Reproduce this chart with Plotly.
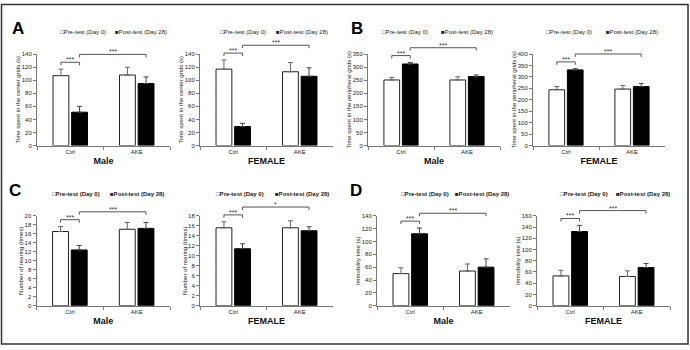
import plotly.graph_objects as go

W, H = 690, 350

categories = ["Ctrl", "AKE"]
series_names = ["Pre-test (Day 0)", "Post-test (Day 28)"]

# A: Time spent in the center grids (s)
a_male_pre = [107, 108]
a_male_pre_sem = [10, 12]
a_male_post = [51, 95]
a_male_post_sem = [9, 10]
a_female_pre = [117, 113]
a_female_pre_sem = [14, 14]
a_female_post = [29, 106]
a_female_post_sem = [5, 13]

# B: Time spent in the peripheral grids (s)
b_male_pre = [251, 251]
b_male_pre_sem = [10, 12]
b_male_post = [312, 264]
b_male_post_sem = [6, 6]
b_female_pre = [244, 247]
b_female_pre_sem = [14, 16]
b_female_post = [331, 258]
b_female_post_sem = [5, 13]

# C: Number of rearing (times)
c_male_pre = [16.5, 17.0]
c_male_pre_sem = [1.1, 1.5]
c_male_post = [12.4, 17.2]
c_male_post_sem = [1.0, 1.3]
c_female_pre = [15.6, 15.6]
c_female_pre_sem = [1.2, 1.4]
c_female_post = [11.4, 15.0]
c_female_post_sem = [1.0, 0.8]

# D: Immobility time (s)
d_male_pre = [50, 54]
d_male_pre_sem = [9, 11]
d_male_post = [112, 60]
d_male_post_sem = [9, 13]
d_female_pre = [53, 52]
d_female_pre_sem = [10, 10]
d_female_post = [132, 68]
d_female_post_sem = [11, 7]

# significance labels: (Ctrl pre vs post, Ctrl post vs AKE post)
sig_labels = [("***", "***"), ("***", "***"), ("***", "***"), ("***", "***"),
              ("***", "***"), ("***", "*"), ("***", "***"), ("***", "***")]

y_titles = ["Time spent in the center grids (s)", "Time spent in the center grids (s)",
            "Time spent in the peripheral grids (s)", "Time spent in the peripheral grids (s)",
            "Number of rearing (times)", "Number of rearing (times)",
            "Immobility time (s)", "Immobility time (s)"]
sex_labels = ["Male", "FEMALE", "Male", "FEMALE", "Male", "FEMALE", "Male", "FEMALE"]
y_max = [140, 140, 350, 400, 20, 18, 140, 160]
y_dtick = [20, 20, 50, 50, 2, 2, 20, 20]

data = [
    (a_male_pre, a_male_pre_sem, a_male_post, a_male_post_sem),
    (a_female_pre, a_female_pre_sem, a_female_post, a_female_post_sem),
    (b_male_pre, b_male_pre_sem, b_male_post, b_male_post_sem),
    (b_female_pre, b_female_pre_sem, b_female_post, b_female_post_sem),
    (c_male_pre, c_male_pre_sem, c_male_post, c_male_post_sem),
    (c_female_pre, c_female_pre_sem, c_female_post, c_female_post_sem),
    (d_male_pre, d_male_pre_sem, d_male_post, d_male_post_sem),
    (d_female_pre, d_female_pre_sem, d_female_post, d_female_post_sem),
]

# ---- layout geometry (pixels) ----
x_px = [(37, 170), (200, 333), (368, 500), (533, 665),
        (36.5, 170), (200, 333), (377, 510), (537, 670)]
rows_px = [(52, 145), (216.5, 308)]
legend_px = [(58, 113), (218, 274), (380, 439), (544, 604),
             (50, 108), (214, 273), (399, 453), (558, 614)]
legend_y = [30, 194]
letters = [("A", 18, 26), ("B", 357, 26), ("C", 15, 191), ("D", 356, 191)]

FONT = "Liberation Sans, Arial, sans-serif"
BARGAP = 0.44
BARGROUPGAP = 0.15
AXC = "#777"

fig = go.Figure()
layout = {}
shapes = []
annotations = []

half = (1 - BARGAP) / 4

for i in range(8):
    n = i + 1
    sfx = "" if n == 1 else str(n)
    xa, ya = "x" + sfx, "y" + sfx
    pre, pre_sem, post, post_sem = data[i]
    row = 0 if i < 4 else 1
    top_px, bot_px = rows_px[row]
    plot_h = bot_px - top_px

    fig.add_trace(go.Bar(
        x=categories, y=pre, name=series_names[0], xaxis=xa, yaxis=ya, showlegend=False,
        marker=dict(color="white", line=dict(color="#222", width=1)),
        error_y=dict(type="data", array=pre_sem, arrayminus=[0] * len(pre), symmetric=False,
                     color="#666", thickness=1, width=2.5)))
    fig.add_trace(go.Bar(
        x=categories, y=post, name=series_names[1], xaxis=xa, yaxis=ya, showlegend=False,
        marker=dict(color="black", line=dict(color="black", width=1)),
        error_y=dict(type="data", array=post_sem, arrayminus=[0] * len(post), symmetric=False,
                     color="#444", thickness=1, width=2.5)))

    layout["xaxis" + sfx] = dict(
        domain=[x_px[i][0] / W, x_px[i][1] / W], anchor=ya, type="category",
        range=[-0.5, 1.5], tickson="boundaries", ticks="outside", ticklen=3,
        tickcolor=AXC, showline=True, linecolor=AXC, linewidth=1, showgrid=False,
        zeroline=False, tickfont=dict(size=6, color="#222"),
        title=dict(text="<b>" + sex_labels[i] + "</b>", font=dict(size=9, color="#111"), standoff=3))
    layout["yaxis" + sfx] = dict(
        domain=[1 - bot_px / H, 1 - top_px / H], anchor=xa, range=[0, y_max[i]],
        dtick=y_dtick[i], ticks="outside", ticklen=3, tickcolor=AXC, showline=True,
        linecolor=AXC, linewidth=1, showgrid=False, zeroline=False,
        tickfont=dict(size=6, color="#222"),
        title=dict(text=y_titles[i], font=dict(size=6, color="#222"), standoff=0))

    # significance brackets computed from the data
    ctrl_top = max(pre[0] + pre_sem[0], post[0] + post_sem[0])
    y_short = ctrl_top / y_max[i] + 7 / plot_h
    y_long = y_short + 8 / plot_h
    tick = 3 / plot_h
    yd = "y" + sfx + " domain"
    for (xl, xr, yb, lab) in [(-half, half, y_short, sig_labels[i][0]),
                               (half, 1 + half, y_long, sig_labels[i][1])]:
        line = dict(color="#555", width=1)
        shapes.append(dict(type="line", xref=xa, yref=yd, x0=xl, x1=xr, y0=yb, y1=yb, line=line))
        shapes.append(dict(type="line", xref=xa, yref=yd, x0=xl, x1=xl, y0=yb, y1=yb - tick, line=line))
        shapes.append(dict(type="line", xref=xa, yref=yd, x0=xr, x1=xr, y0=yb, y1=yb - tick, line=line))
        annotations.append(dict(text=lab, xref=xa, yref=yd, x=(xl + xr) / 2, y=yb,
                                xanchor="center", yanchor="bottom", yshift=-3, showarrow=False,
                                font=dict(size=7, color="#333")))

    # legend-like labels
    bold = row == 1
    for k, (sym, name) in enumerate([("□", series_names[0]), ("■", series_names[1])]):
        txt = sym + name
        if bold:
            txt = "<b>" + txt + "</b>"
        annotations.append(dict(text=txt, xref="paper", yref="paper",
                                x=legend_px[i][k] / W, y=1 - legend_y[row] / H,
                                xanchor="left", yanchor="middle", showarrow=False,
                                font=dict(size=6, color="#222")))

for (L, lx, ly) in letters:
    annotations.append(dict(text="<b>" + L + "</b>", xref="paper", yref="paper",
                            x=lx / W, y=1 - ly / H, xanchor="center", yanchor="middle",
                            showarrow=False, font=dict(size=17, color="black")))

# outer frame
shapes.append(dict(type="rect", xref="paper", yref="paper", x0=1.5 / W, x1=1 - 2 / W,
                   y0=3 / H, y1=1 - 1.5 / H, line=dict(color="#333", width=1.5)))

fig.update_layout(
    width=W, height=H, margin=dict(l=0, r=0, t=0, b=0),
    paper_bgcolor="white", plot_bgcolor="white",
    font=dict(family=FONT, color="#222"),
    barmode="group", bargap=BARGAP, bargroupgap=BARGROUPGAP,
    shapes=shapes, annotations=annotations, showlegend=False,
    **layout)

fig.write_html("out.html")
